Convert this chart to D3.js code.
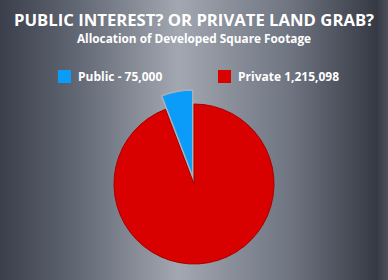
<!DOCTYPE html>
<html>
<head>
<meta charset="utf-8">
<script src="https://cdn.jsdelivr.net/npm/d3@7"></script>
<style>
  html, body { margin: 0; padding: 0; }
  body { width: 388px; height: 280px; overflow: hidden; }
  text { font-family: 'Open Sans', sans-serif; font-weight: 700; fill: #ffffff; }
</style>
</head>
<body>
<div id="chart"></div>
<script>
// data
const categories = ['Public', 'Private']
const values = [75000, 1215098]
const legendLabels = ['Public - 75,000', 'Private 1,215,098']
const colors = ['#0a9cf8', '#d90000']
const strokes = ['#a9b0ba', '#a80000']

const width = 388
const height = 280

const svg = d3.select('#chart').append('svg')
    .attr('width', width)
    .attr('height', height)

// background gradient, dark edges, light middle
const defs = svg.append('defs')
const grad = defs.append('linearGradient')
    .attr('id', 'bg')
    .attr('x1', '0%').attr('x2', '100%')
    .attr('y1', '0%').attr('y2', '0%')
grad.append('stop').attr('offset', '0%').attr('stop-color', '#3a3f4b')
grad.append('stop').attr('offset', '18%').attr('stop-color', '#5d636f')
grad.append('stop').attr('offset', '46%').attr('stop-color', '#a2a7b1')
grad.append('stop').attr('offset', '75%').attr('stop-color', '#6e7480')
grad.append('stop').attr('offset', '97%').attr('stop-color', '#363a45')
grad.append('stop').attr('offset', '100%').attr('stop-color', '#4a4f5a')

svg.append('rect')
    .attr('width', width)
    .attr('height', height)
    .attr('fill', 'url(#bg)')

// titles
svg.append('text')
    .attr('x', 194)
    .attr('y', 26)
    .attr('text-anchor', 'middle')
    .attr('font-size', '16.7px')
    .text('PUBLIC INTEREST? OR PRIVATE LAND GRAB?')

svg.append('text')
    .attr('x', 194)
    .attr('y', 42.5)
    .attr('text-anchor', 'middle')
    .attr('font-size', '11.8px')
    .text('Allocation of Developed Square Footage')

// legend
const legendX = [58, 218]
const legend = svg.selectAll('.legend')
    .data(categories)
    .enter().append('g')
        .attr('class', 'legend')
        .attr('transform', (d, i) => 'translate(' + legendX[i] + ',70)')

legend.append('rect')
    .attr('width', 13)
    .attr('height', 13)
    .attr('fill', (d, i) => colors[i])

legend.append('text')
    .attr('x', 20)
    .attr('y', 11)
    .attr('font-size', '12px')
    .text((d, i) => legendLabels[i])

// pie
const cx = 194
const cy = 184
const radius = 80

const total = d3.sum(values)
const publicAngle = 2 * Math.PI * values[0] / total

const pie = d3.pie()
    .sort(null)
    .startAngle(-publicAngle)
    .endAngle(2 * Math.PI - publicAngle)

const slices = pie(values)

const arc = d3.arc().innerRadius(0).outerRadius(radius)
const bigArc = d3.arc().innerRadius(0).outerRadius(radius + 7)

const g = svg.append('g')
    .attr('transform', 'translate(' + cx + ',' + cy + ')')

g.selectAll('path')
    .data(slices)
    .enter().append('path')
        .attr('d', (d, i) => i === 0 ? bigArc(d) : arc(d))
        .attr('fill', (d, i) => colors[i])
        .attr('stroke', (d, i) => strokes[i])
        .attr('stroke-width', (d, i) => i === 0 ? 1.5 : 1)
        .attr('transform', (d, i) => {
            if (i !== 0) return null
            // explode the public slice outwards
            const mid = (d.startAngle + d.endAngle) / 2
            const off = 7
            return 'translate(' + (Math.sin(mid) * off) + ',' + (-Math.cos(mid) * off) + ')'
        })
</script>
</body>
</html>
